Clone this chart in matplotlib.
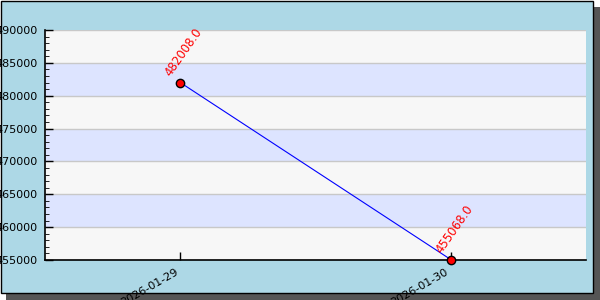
import matplotlib
matplotlib.use("Agg")
import matplotlib.pyplot as plt
from matplotlib.patches import Rectangle
from matplotlib.ticker import MultipleLocator

dates = ["2026-01-29", "2026-01-30"]
values = [482008.0, 455068.0]
y_min, y_max, y_step = 455000, 490000, 5000

fig = plt.figure(figsize=(6, 3), dpi=100)
fig.patch.set_alpha(0)

W, H = 600.0, 300.0
# drop shadow then the light-blue frame
fig.patches.append(Rectangle((6 / W, 0), 594 / W, 293 / H, transform=fig.transFigure,
                             facecolor="#555555", edgecolor="none", zorder=-3))
fig.patches.append(Rectangle((0.5 / W, 7.5 / H), 592.5 / W, 292 / H, transform=fig.transFigure,
                             facecolor="#add8e6", edgecolor="black", linewidth=1, zorder=-2))

ax = fig.add_axes([45 / W, 40 / H, 541 / W, 230 / H])
ax.set_facecolor("#f7f7f7")

# alternating bands
for i, lo in enumerate(range(y_min, y_max, y_step)):
    if i % 2 == 1:
        ax.axhspan(lo, lo + y_step, color="#dde4ff", zorder=0, linewidth=0)
for yv in range(y_min, y_max + 1, y_step):
    ax.axhline(yv, color="#c8c8c8", linewidth=1, zorder=1)

x = list(range(len(dates)))
ax.plot(x, values, color="blue", linewidth=0.8, zorder=3)
ax.plot(x, values, "o", color="red", markeredgecolor="black", markersize=6,
        markeredgewidth=1, zorder=4, clip_on=False)

for xi, v in zip(x, values):
    ax.annotate(f"{v:.1f}", (xi, v), xytext=(-5, 3), textcoords="offset points",
                rotation=55, rotation_mode="anchor", ha="left", va="bottom",
                color="red", fontsize=8.5, zorder=5, annotation_clip=False)

ax.set_xlim(-0.5, len(dates) - 0.5)
ax.set_ylim(y_min, y_max)
ax.set_xticks(x)
ax.set_xticklabels([])
# date labels drawn by hand so they can sit a little left of the tick
for xi, d in zip(x, dates):
    ax.annotate(d, (xi, 0), xycoords=("data", "axes fraction"), xytext=(-4, -5),
                textcoords="offset points", rotation=30, rotation_mode="anchor",
                ha="right", va="top", fontsize=8, annotation_clip=False)
ax.yaxis.set_major_locator(MultipleLocator(y_step))
ax.yaxis.set_minor_locator(MultipleLocator(1000))
ax.tick_params(axis="both", direction="in", labelsize=8, length=6, width=1)
ax.tick_params(axis="y", which="minor", direction="in", length=3)
ax.tick_params(axis="y", pad=5)
ax.yaxis.set_major_formatter(plt.FuncFormatter(lambda v, p: f"{int(v)}"))

for s in ["top", "right"]:
    ax.spines[s].set_visible(False)
for s in ["left", "bottom"]:
    ax.spines[s].set_linewidth(1.2)

fig.savefig("out.png", dpi=100)
